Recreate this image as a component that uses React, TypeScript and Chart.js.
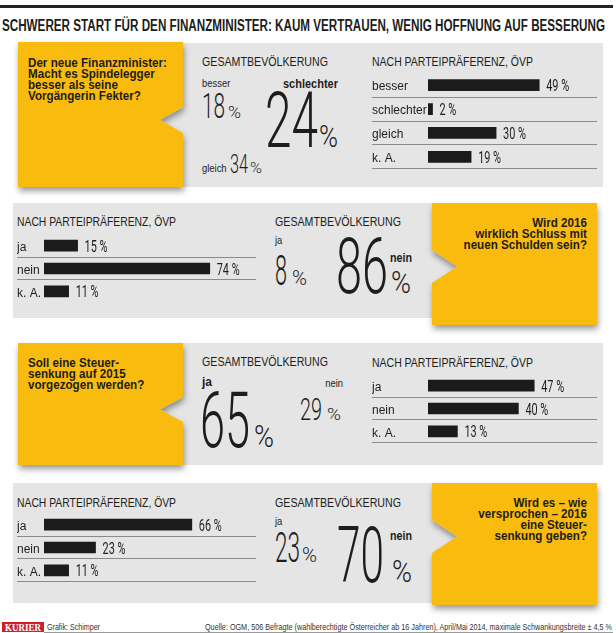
import React, { useEffect, useRef } from 'react';
import { Chart, registerables } from 'chart.js';

Chart.register(...registerables);

// ---------- data ----------
const title = 'SCHWERER START FÜR DEN FINANZMINISTER: KAUM VERTRAUEN, WENIG HOFFNUNG AUF BESSERUNG';

const q1Question = ['Der neue Finanzminister:', 'Macht es Spindelegger', 'besser als seine', 'Vorgängerin Fekter?'];
const q1TotalLabels = ['besser', 'schlechter', 'gleich'];
const q1TotalValues = [18, 24, 34];
const q1PartyLabels = ['besser', 'schlechter', 'gleich', 'k. A.'];
const q1PartyValues = [49, 2, 30, 19];

const q2Question = ['Wird 2016', 'wirklich Schluss mit', 'neuen Schulden sein?'];
const q2TotalLabels = ['ja', 'nein'];
const q2TotalValues = [8, 86];
const q2PartyLabels = ['ja', 'nein', 'k. A.'];
const q2PartyValues = [15, 74, 11];

const q3Question = ['Soll eine Steuer-', 'senkung auf 2015', 'vorgezogen werden?'];
const q3TotalLabels = ['ja', 'nein'];
const q3TotalValues = [65, 29];
const q3PartyLabels = ['ja', 'nein', 'k. A.'];
const q3PartyValues = [47, 40, 13];

const q4Question = ['Wird es – wie', 'versprochen – 2016', 'eine Steuer-', 'senkung geben?'];
const q4TotalLabels = ['ja', 'nein'];
const q4TotalValues = [23, 70];
const q4PartyLabels = ['ja', 'nein', 'k. A.'];
const q4PartyValues = [66, 23, 11];

const totalHeader = 'GESAMTBEVÖLKERUNG';
const partyHeader = 'NACH PARTEIPRÄFERENZ, ÖVP';
const footerLeft = 'Grafik: Schimper';
const footerSource = 'Quelle: OGM, 506 Befragte (wahlberechtigte Österreicher ab 16 Jahren), April/Mai 2014, maximale Schwankungsbreite ± 4,5 %';

// ---------- style ----------
const INK = '#1d1d1b';
const YELLOW = '#F9BB0C';
const GRAY = '#E5E5E5';
const BAR = '#1b1b1b';
const RULE = '#8a8a8a';
const SANS = "'Liberation Sans', Arial, sans-serif";
const NARROW = "'Liberation Sans Narrow', 'Liberation Sans', Arial, sans-serif";
const THIN = "Roboto, 'DejaVu Sans', sans-serif";

type TP = {
  x: number; y: number; s: string; size: number; w?: number; fam?: string;
  anchor?: 'start' | 'end' | 'middle'; len?: number; sx?: number; fill?: string;
};
function Tx({ x, y, s, size, w = 400, fam = SANS, anchor = 'start', len, sx = 1, fill = INK }: TP) {
  const extra: any = len ? { textLength: len, lengthAdjust: 'spacingAndGlyphs' } : {};
  return (
    <text transform={`translate(${x},${y}) scale(${sx},1)`} fontFamily={fam} fontSize={size}
      fontWeight={w} textAnchor={anchor} fill={fill} {...extra}>{s}</text>
  );
}

const valueLabels = {
  id: 'valueLabels',
  afterDatasetsDraw(chart: any) {
    const ctx = chart.ctx;
    const meta = chart.getDatasetMeta(0);
    const data = chart.data.datasets[0].data;
    ctx.save();
    ctx.fillStyle = INK;
    ctx.textBaseline = 'alphabetic';
    meta.data.forEach((bar: any, i: number) => {
      ctx.save();
      ctx.translate(bar.x + 7, bar.y + 6);
      ctx.scale(0.68, 1);
      ctx.font = '400 16px Roboto';
      const num = String(data[i]);
      ctx.fillText(num, 0, 0);
      const w = ctx.measureText(num).width;
      ctx.font = '400 16px Roboto';
      ctx.fillText('%', w + 4, 0);
      ctx.restore();
    });
    ctx.restore();
  },
};

type BP = {
  labels: string[]; values: number[]; left: number; top: number; width: number;
  axisW: number; pxPerPct: number; bottomLine: boolean;
};
function BarPanel({ labels, values, left, top, width, axisW, pxPerPct, bottomLine }: BP) {
  const ref = useRef<HTMLCanvasElement>(null);
  const rowH = 27;
  const height = labels.length * rowH + 2;
  useEffect(() => {
    const chart = new Chart(ref.current as HTMLCanvasElement, {
      type: 'bar',
      data: {
        labels,
        datasets: [{ data: values, backgroundColor: BAR, barThickness: 11, borderWidth: 0 }],
      },
      options: {
        indexAxis: 'y',
        responsive: false,
        maintainAspectRatio: false,
        animation: false,
        layout: { padding: { top: 0, bottom: 2, left: 0, right: 0 } },
        plugins: { legend: { display: false }, tooltip: { enabled: false } },
        scales: {
          x: { display: false, min: 0, max: (width - axisW) / pxPerPct },
          y: {
            offset: true,
            grid: {
              offset: true,
              drawTicks: true,
              tickLength: axisW,
              lineWidth: 1,
              color: (c: any) =>
                c.index === 0 ? 'rgba(0,0,0,0)' : c.index === undefined && !bottomLine ? 'rgba(0,0,0,0)' : RULE,
            },
            border: { display: false },
            ticks: {
              crossAlign: 'far',
              autoSkip: false,
              padding: 0,
              labelOffset: 2,
              color: INK,
              font: { family: NARROW, size: 12 },
            },
            afterFit: (s: any) => { s.width = axisW; },
          } as any,
        },
      },
      plugins: [valueLabels],
    });
    return () => chart.destroy();
  }, []);
  return (
    <canvas ref={ref} width={width} height={height}
      style={{ position: 'absolute', left, top, width, height }} />
  );
}

function notchRight(x0: number, y0: number, x1: number, y1: number, n1: number, n2: number, tip: number) {
  const m = (n1 + n2) / 2;
  return `${x0},${y0} ${x1},${y0} ${x1},${n1} ${tip},${m} ${x1},${n2} ${x1},${y1} ${x0},${y1}`;
}
function notchLeft(x0: number, y0: number, x1: number, y1: number, n1: number, n2: number, tip: number) {
  const m = (n1 + n2) / 2;
  return `${x0},${y0} ${x1},${y0} ${x1},${y1} ${x0},${y1} ${x0},${n2} ${tip},${m} ${x0},${n1}`;
}

export default function App() {
  return (
    <div style={{ position: 'absolute', left: 0, top: 0, width: 616, height: 633, background: '#fff', overflow: 'hidden' }}>
      <svg width={616} height={633} style={{ position: 'absolute', left: 0, top: 0 }}>
        <defs>
          <filter id="sh" x="-10%" y="-10%" width="130%" height="130%">
            <feDropShadow dx="1" dy="4" stdDeviation="3" floodColor="#000" floodOpacity="0.4" />
          </filter>
        </defs>
        {/* top rule + title */}
        <rect x={0} y={5} width={613} height={3} fill="#222" />
        <Tx x={2} y={30.5} s={title} size={16} w={700} len={603} />

        {/* panel 1 */}
        <rect x={160} y={43} width={443} height={144} fill={GRAY} />
        <polygon points={notchRight(18, 42, 183, 187, 107, 133, 160)} fill={YELLOW} filter="url(#sh)" />
        {q1Question.map((l, i) => <Tx key={i} x={28} y={67 + i * 11} s={l} size={12} w={700} sx={0.97} />)}
        <Tx x={202} y={66} s={totalHeader} size={13} len={126} />
        <Tx x={202} y={87} s={q1TotalLabels[0]} size={11.5} sx={0.82} />
        <Tx x={283} y={88} s={q1TotalLabels[1]} size={13} w={700} len={55} />
        <Tx x={202} y={118} s={String(q1TotalValues[0])} size={35} w={300} fam={THIN} len={23} />
        <Tx x={228} y={118} s="%" size={17} w={300} fam={THIN} len={13} />
        <Tx x={265} y={147} s={String(q1TotalValues[1])} size={77} w={300} fam={THIN} len={53} />
        <Tx x={319} y={147} s="%" size={31} w={300} fam={THIN} len={19} />
        <Tx x={202} y={172} s={q1TotalLabels[2]} size={11.5} sx={0.82} />
        <Tx x={230} y={173} s={String(q1TotalValues[2])} size={25} w={300} fam={THIN} len={18} />
        <Tx x={250} y={173} s="%" size={15} w={300} fam={THIN} len={12} />
        <Tx x={372} y={66} s={partyHeader} size={13} len={161} />

        {/* panel 2 */}
        <rect x={13} y={203} width={447} height={115} fill={GRAY} />
        <polygon points={notchLeft(432, 203, 597, 325, 250, 283, 457)} fill={YELLOW} filter="url(#sh)" />
        {q2Question.map((l, i) => <Tx key={i} x={587} y={227 + i * 11} s={l} size={12} w={700} sx={0.97} anchor="end" />)}
        <Tx x={17} y={226} s={partyHeader} size={13} len={159} />
        <Tx x={275} y={226} s={totalHeader} size={13} len={126} />
        <Tx x={275} y={244} s={q2TotalLabels[0]} size={11.5} sx={0.82} />
        <Tx x={275} y={285} s={String(q2TotalValues[0])} size={42} w={300} fam={THIN} len={12} />
        <Tx x={292} y={285} s="%" size={20} w={300} fam={THIN} len={15} />
        <Tx x={336} y={293} s={String(q2TotalValues[1])} size={77} w={300} fam={THIN} len={52} />
        <Tx x={390} y={262} s={q2TotalLabels[1]} size={12} w={700} len={22} />
        <Tx x={391} y={293} s="%" size={31} w={300} fam={THIN} len={20} />

        {/* panel 3 */}
        <rect x={160} y={343} width={443} height={122} fill={GRAY} />
        <polygon points={notchRight(18, 343, 183, 465, 397, 422, 160)} fill={YELLOW} filter="url(#sh)" />
        {q3Question.map((l, i) => <Tx key={i} x={28} y={367 + i * 11} s={l} size={12} w={700} sx={0.97} />)}
        <Tx x={202} y={366} s={totalHeader} size={13} len={126} />
        <Tx x={202} y={386} s={q3TotalLabels[0]} size={12} w={700} />
        <Tx x={200} y={447} s={String(q3TotalValues[0])} size={77} w={300} fam={THIN} len={50} />
        <Tx x={254} y={447} s="%" size={31} w={300} fam={THIN} len={20} />
        <Tx x={343} y={387} s={q3TotalLabels[1]} size={11.5} sx={0.82} anchor="end" />
        <Tx x={300} y={420} s={String(q3TotalValues[1])} size={31} w={300} fam={THIN} len={22} />
        <Tx x={327} y={420} s="%" size={17} w={300} fam={THIN} len={14} />
        <Tx x={372} y={367} s={partyHeader} size={13} len={161} />

        {/* panel 4 */}
        <rect x={13} y={483} width={447} height={120} fill={GRAY} />
        <polygon points={notchLeft(432, 483, 597, 605, 520, 553, 457)} fill={YELLOW} filter="url(#sh)" />
        {q4Question.map((l, i) => <Tx key={i} x={587} y={507 + i * 11} s={l} size={12} w={700} sx={0.97} anchor="end" />)}
        <Tx x={17} y={507} s={partyHeader} size={13} len={159} />
        <Tx x={275} y={507} s={totalHeader} size={13} len={126} />
        <Tx x={275} y={525} s={q4TotalLabels[0]} size={11.5} sx={0.82} />
        <Tx x={275} y={562} s={String(q4TotalValues[0])} size={42} w={300} fam={THIN} len={25} />
        <Tx x={302} y={562} s="%" size={20} w={300} fam={THIN} len={15} />
        <Tx x={337} y={582} s={String(q4TotalValues[1])} size={77} w={300} fam={THIN} len={47} />
        <Tx x={390} y={540} s={q4TotalLabels[1]} size={12} w={700} len={22} />
        <Tx x={392} y={582} s="%" size={31} w={300} fam={THIN} len={20} />

        {/* footer */}
        <rect x={2} y={622} width={42} height={10} fill="#cf1f2b" />
        <Tx x={23} y={630.5} s="KURIER" size={9.5} w={700} fam="'Liberation Serif', serif" anchor="middle" len={36} fill="#fff" />
        <Tx x={47} y={630} s={footerLeft} size={9} len={53} fill="#333" />
        <Tx x={612} y={630} s={footerSource} size={9} len={407} anchor="end" fill="#333" />
        <line x1={44} y1={632.5} x2={613} y2={632.5} stroke="#9a9a9a" strokeWidth={1} />
      </svg>

      <BarPanel labels={q1PartyLabels} values={q1PartyValues} left={372} top={66} width={225} axisW={56} pxPerPct={2.27} bottomLine={true} />
      <BarPanel labels={q2PartyLabels} values={q2PartyValues} left={17} top={227} width={239} axisW={27} pxPerPct={2.24} bottomLine={false} />
      <BarPanel labels={q3PartyLabels} values={q3PartyValues} left={372} top={367} width={225} axisW={56} pxPerPct={2.26} bottomLine={true} />
      <BarPanel labels={q4PartyLabels} values={q4PartyValues} left={17} top={506} width={239} axisW={27} pxPerPct={2.24} bottomLine={true} />
    </div>
  );
}
